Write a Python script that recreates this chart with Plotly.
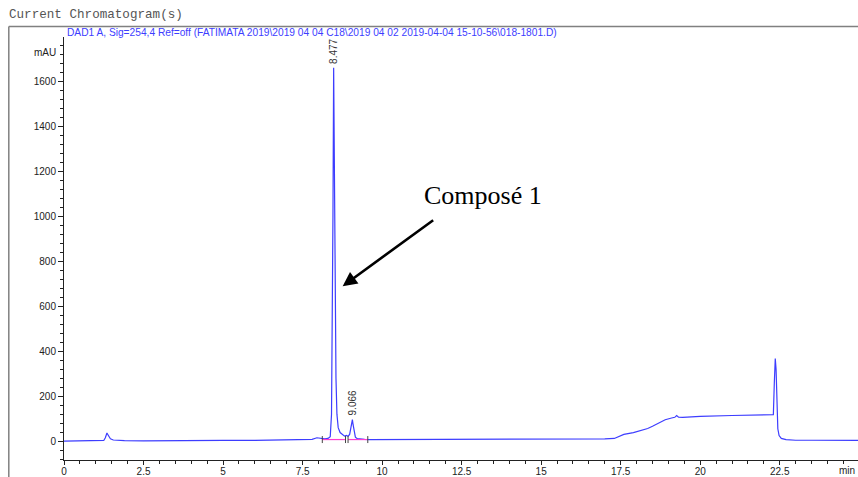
import plotly.graph_objects as go

# ---- data ----
time_min = [0.0, 0.5, 1.0, 1.25, 1.30, 1.35, 1.40, 1.46, 1.55, 1.7, 1.9, 2.5, 3.0, 4.0, 5.0, 6.0, 7.0,
            7.5, 7.8, 7.95, 8.02, 8.1, 8.2, 8.3, 8.37, 8.41, 8.435, 8.455, 8.477, 8.50, 8.525, 8.55,
            8.58, 8.62, 8.68, 8.75, 8.82, 8.88, 8.93, 8.98, 9.02, 9.045, 9.066, 9.09, 9.12, 9.16,
            9.22, 9.3, 9.45, 9.6, 10.0, 11.0, 12.0, 13.0, 14.0, 15.0, 16.0, 17.0, 17.3, 17.45, 17.6,
            17.9, 18.1, 18.2, 18.35, 18.5, 18.7, 18.9, 19.1, 19.2, 19.26, 19.32, 19.45, 19.7, 20.0,
            21.0, 22.0, 22.3, 22.33, 22.36, 22.385, 22.41, 22.44, 22.48, 22.55, 22.7, 23.0, 23.5,
            24.0, 24.5, 25.0]
absorbance = [0, 0, 1, 3, 15, 36, 24, 10, 5, 3, 2, 1, 2, 2, 3, 3, 5,
              6, 8, 15, 14, 11, 10, 12, 20, 120, 500, 1000, 1662, 1250, 650, 280,
              120, 60, 38, 28, 22, 25, 22, 30, 55, 85, 96, 72, 38, 18,
              11, 9, 8, 7, 7, 7, 7, 8, 8, 8, 9, 10, 12, 22, 30,
              38, 45, 50, 56, 66, 82, 95, 103, 106, 114, 107, 106, 108, 110,
              114, 117, 118, 260, 368, 320, 150, 55, 25, 12, 7, 4, 4,
              3, 4, 3]

baseline1_t = [8.12, 8.85]
baseline1_a = [7, 7]
baseline2_t = [8.93, 9.55]
baseline2_a = [7, 7]

peak_times = [8.477, 9.066]
peak_heights = [1662, 96]
peak_labels = ["8.477", "9.066"]

W, H = 858, 477
ML, MR, MT, MB = 64, 0, 37, 477 - 460
PW, PH = W - ML - MR, H - MT - MB


def pxx(p):
    return (p - ML) / PW


def pxy(p):
    return (H - MB - p) / PH


BLUE = "#3d3dff"

fig = go.Figure()
fig.add_trace(go.Scatter(x=time_min, y=absorbance, mode="lines",
                         line=dict(color=BLUE, width=1.2), hoverinfo="skip"))
for bt, ba in [(baseline1_t, baseline1_a), (baseline2_t, baseline2_a)]:
    fig.add_trace(go.Scatter(x=bt, y=ba, mode="lines+markers",
                             line=dict(color="#ff3ccf", width=1.2),
                             marker=dict(symbol="line-ns", size=5, line=dict(color="#444", width=1)),
                             hoverinfo="skip"))

annotations = []
for t, h, lab in zip(peak_times, peak_heights, peak_labels):
    annotations.append(dict(x=t, y=h, xref="x", yref="y", text=lab, showarrow=False,
                            textangle=-90, xanchor="center", yanchor="bottom", yshift=2,
                            font=dict(family="Arial, Liberation Sans", size=10, color="#333")))

# Arrow pointing at the main compound
annotations.append(dict(x=8.76, y=690, xref="x", yref="y", ax=92, ay=-67, text="",
                        showarrow=True, arrowhead=2, arrowsize=1.1, arrowwidth=2.6,
                        arrowcolor="black"))
annotations.append(dict(x=pxx(422), y=pxy(195), xref="paper", yref="paper", text="Composé 1",
                        showarrow=False, xanchor="left", yanchor="middle",
                        font=dict(family="Liberation Serif, Times New Roman, serif", size=26,
                                  color="black")))
# Header texts
annotations.append(dict(x=pxx(6.5), y=pxy(15.5), xref="paper", yref="paper",
                        text="Current Chromatogram(s)", showarrow=False,
                        xanchor="left", yanchor="middle",
                        font=dict(family="Liberation Mono, Courier New, monospace", size=12.6,
                                  color="#555")))
annotations.append(dict(x=pxx(65), y=pxy(33), xref="paper", yref="paper",
                        text="DAD1 A, Sig=254,4 Ref=off (FATIMATA 2019\\2019 04 04 C18\\2019 04 02 "
                             "2019-04-04 15-10-56\\018-1801.D)",
                        showarrow=False, xanchor="left", yanchor="middle",
                        font=dict(family="Arial, Liberation Sans", size=10.2, color=BLUE)))
annotations.append(dict(x=pxx(58), y=pxy(52), xref="paper", yref="paper", text="mAU",
                        showarrow=False, xanchor="right", yanchor="middle",
                        font=dict(family="Arial, Liberation Sans", size=10, color="#222")))
annotations.append(dict(x=pxx(857), y=pxy(470.5), xref="paper", yref="paper", text="min",
                        showarrow=False, xanchor="right", yanchor="middle",
                        font=dict(family="Arial, Liberation Sans", size=10, color="#222")))

shapes = [
    dict(type="line", xref="paper", yref="paper", x0=pxx(8.8), x1=pxx(860), y0=pxy(26.5), y1=pxy(26.5),
         line=dict(color="#808080", width=1.5)),
    dict(type="line", xref="paper", yref="paper", x0=pxx(8.8), x1=pxx(8.8), y0=pxy(26.5), y1=pxy(479),
         line=dict(color="#808080", width=1.5)),
]

fig.update_layout(
    width=W, height=H, margin=dict(l=ML, r=MR, t=MT, b=MB, autoexpand=False),
    paper_bgcolor="white", plot_bgcolor="white", showlegend=False,
    annotations=annotations, shapes=shapes,
    font=dict(family="Arial, Liberation Sans", size=10, color="#222"),
)
fig.update_xaxes(range=[0, PW / 31.81], tickmode="linear", tick0=0, dtick=2.5, automargin=False,
                 showgrid=False, zeroline=False, showline=True, linecolor="#222", linewidth=1,
                 ticks="outside", ticklen=4, tickcolor="#222", ticklabelstandoff=-2,
                 minor=dict(dtick=0.5, tick0=0, ticks="outside", ticklen=3, tickcolor="#222",
                            showgrid=False),
                 tickfont=dict(size=10, color="#222"))
fig.update_yaxes(range=[-84, 1799], tickmode="linear", tick0=0, dtick=200, automargin=False,
                 showgrid=False, zeroline=False, showline=True, linecolor="#222", linewidth=1,
                 ticks="outside", ticklen=5, tickcolor="#222",
                 minor=dict(dtick=40, tick0=0, ticks="outside", ticklen=3, tickcolor="#222",
                            showgrid=False),
                 tickfont=dict(size=10, color="#222"))

fig.write_html("out.html", config={"displayModeBar": False},
               post_script="document.body.style.margin='0';document.body.style.overflow='hidden';")
